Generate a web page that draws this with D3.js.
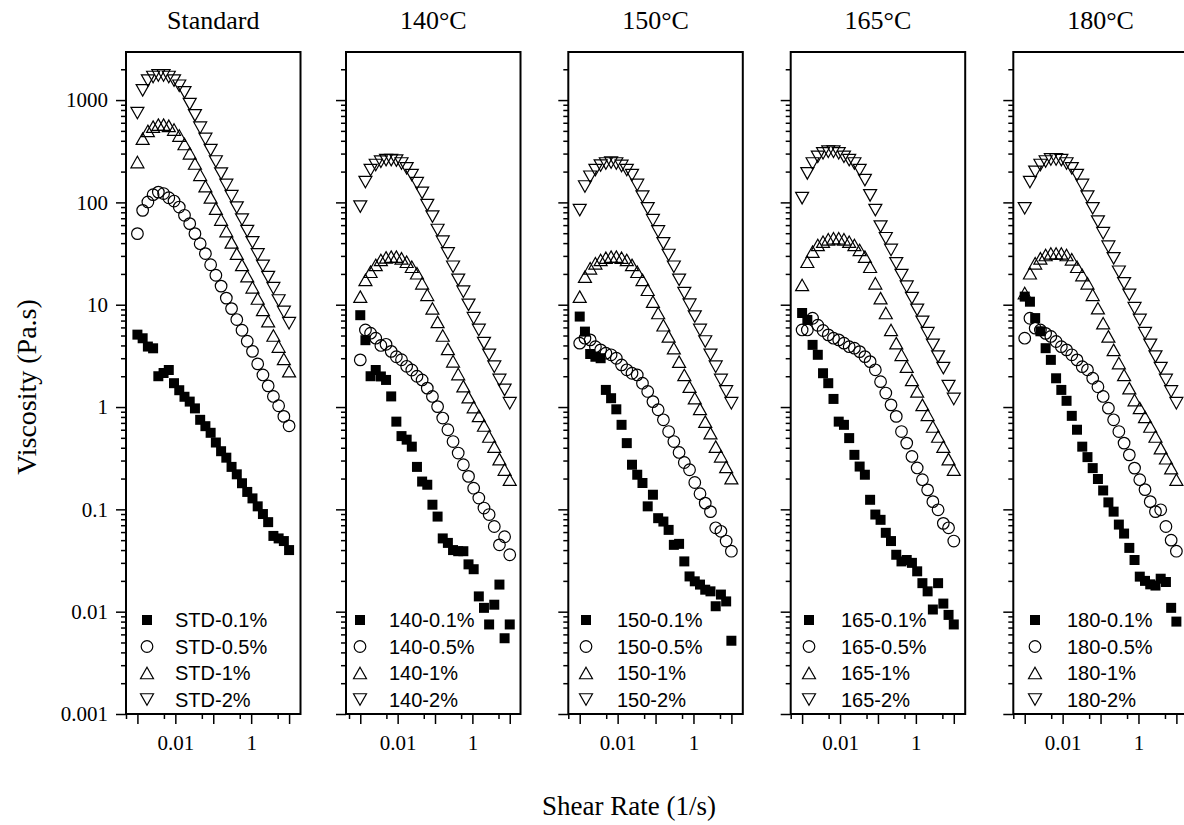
<!DOCTYPE html>
<html><head><meta charset="utf-8">
<script src="https://cdn.jsdelivr.net/npm/d3@7"></script>
<style>body{margin:0;background:#fff}</style>
</head><body><svg id="c" width="1184" height="825"></svg>
<script>
// ---------------- data ----------------
const shearRate = [0.001, 0.001374, 0.001888, 0.002593, 0.003562, 0.004894, 0.006723, 0.009237, 0.01269, 0.01743,
  0.02395, 0.0329, 0.0452, 0.0621, 0.08532, 0.1172, 0.161, 0.2212, 0.3039, 0.4175,
  0.5736, 0.788, 1.083, 1.487, 2.043, 2.807, 3.857, 5.298, 7.279, 10];

const panelTitles = ["Standard", "140\u00B0C", "150\u00B0C", "165\u00B0C", "180\u00B0C"];
const seriesPrefixes = ["STD", "140", "150", "165", "180"];
const seriesSuffixes = ["0.1%", "0.5%", "1%", "2%"];
const yTickLabels = ["0.001", "0.01", "0.1", "1", "10", "100", "1000"];
const xTickLabels = ["0.01", "1"];

// Standard
const std01 = [5.1, 4.7, 3.9, 3.75, 2.0, 2.15, 2.3, 1.71, 1.46, 1.26, 1.13, 0.97, 0.75, 0.65, 0.56, 0.45, 0.37, 0.32, 0.26, 0.22, 0.18, 0.148, 0.128, 0.107, 0.09, 0.075, 0.055, 0.052, 0.049, 0.040];
const std05 = [49.5, 83.6, 101, 119, 126, 122, 111, 103, 90, 74.8, 62, 49.5, 39.5, 31.6, 24.6, 19.4, 15.2, 11.6, 9.16, 7.16, 5.63, 4.40, 3.5, 2.64, 2.06, 1.61, 1.27, 1.03, 0.81, 0.655];
const std1  = [248, 420, 500, 550, 575, 575, 560, 515, 450, 372, 302, 240, 186, 144, 112, 87, 68, 52.5, 40.7, 31.6, 24.5, 19, 14.8, 11.5, 8.9, 6.9, 5.0, 3.9, 2.95, 2.24];
const std2  = [747, 1245, 1550, 1680, 1740, 1740, 1680, 1550, 1380, 1190, 912, 708, 537, 417, 324, 251, 191, 148, 115, 89, 68, 52.5, 40.7, 31, 24, 18.6, 14.5, 11, 8.5, 6.6];
// 140 C
const t140_01 = [7.9, 4.5, 2.0, 2.3, 1.99, 1.84, 1.27, 0.72, 0.52, 0.48, 0.41, 0.26, 0.187, 0.174, 0.111, 0.085, 0.052, 0.047, 0.040, 0.039, 0.039, 0.029, 0.026, 0.0141, 0.0109, 0.0075, 0.0117, 0.0184, 0.0055, 0.0075];
const t140_05 = [2.89, 5.67, 5.27, 4.71, 4.0, 4.1, 3.5, 3.1, 2.9, 2.5, 2.3, 2.0, 1.84, 1.53, 1.27, 1.01, 0.78, 0.60, 0.46, 0.355, 0.273, 0.21, 0.161, 0.129, 0.103, 0.089, 0.068, 0.045, 0.054, 0.036];
const t140_1  = [12.0, 17.5, 21, 24.5, 27.4, 29, 29.5, 29.5, 28.4, 26.3, 23.5, 20.3, 16.2, 12.5, 9.2, 6.8, 5.0, 3.7, 2.8, 2.1, 1.6, 1.25, 1.0, 0.82, 0.66, 0.515, 0.41, 0.31, 0.245, 0.195];
const t140_2  = [91, 158, 207, 232, 250, 259, 259, 256, 240, 215, 185, 154, 124, 94, 72.6, 53.7, 41.3, 31.7, 23.5, 17.5, 13.4, 9.96, 7.38, 5.67, 4.21, 3.24, 2.48, 1.84, 1.47, 1.09];
// 150 C
const t150_01 = [7.66, 5.46, 3.3, 3.1, 3.0, 1.47, 1.22, 0.95, 0.67, 0.444, 0.273, 0.218, 0.181, 0.107, 0.139, 0.082, 0.076, 0.063, 0.045, 0.046, 0.031, 0.0221, 0.0198, 0.0184, 0.0164, 0.0158, 0.0113, 0.0147, 0.0126, 0.0052];
const t150_05 = [4.21, 4.71, 4.53, 3.89, 3.62, 3.36, 3.24, 3.0, 2.58, 2.31, 2.14, 2.06, 1.71, 1.42, 1.13, 0.94, 0.75, 0.576, 0.46, 0.36, 0.287, 0.244, 0.183, 0.142, 0.115, 0.095, 0.066, 0.061, 0.049, 0.039];
const t150_1  = [12.0, 18.8, 22.7, 25.4, 27.4, 28.8, 29.5, 29.5, 28.8, 27.4, 24.5, 21, 17.5, 14, 10.7, 8.3, 6.3, 4.9, 3.76, 2.78, 2.06, 1.58, 1.22, 0.96, 0.72, 0.556, 0.41, 0.33, 0.26, 0.202];
const t150_2  = [84, 143, 178, 207, 229, 240, 245, 240, 227, 207, 185, 148, 114, 87.5, 67, 52, 39.8, 30.6, 23.5, 17.5, 13, 10, 7.66, 5.67, 4.37, 3.24, 2.48, 1.84, 1.42, 1.09];
// 165 C
const t165_01 = [8.3, 7.1, 4.05, 3.24, 2.14, 1.71, 1.2, 0.72, 0.67, 0.497, 0.341, 0.262, 0.218, 0.124, 0.089, 0.079, 0.059, 0.049, 0.036, 0.031, 0.032, 0.030, 0.0248, 0.019, 0.0158, 0.0105, 0.019, 0.012, 0.0093, 0.0075];
const t165_05 = [5.67, 5.67, 7.38, 6.3, 5.6, 5.07, 4.71, 4.53, 4.21, 3.89, 3.76, 3.48, 3.11, 2.78, 2.31, 1.77, 1.37, 1.05, 0.81, 0.576, 0.444, 0.329, 0.254, 0.195, 0.155, 0.119, 0.099, 0.073, 0.066, 0.049];
const t165_1  = [15.6, 26.3, 33, 38.4, 41.3, 43.6, 44.6, 44.6, 43.6, 41.3, 38.4, 34.3, 29.5, 23.5, 16.2, 11.6, 8.3, 5.67, 4.21, 3.24, 2.48, 1.84, 1.42, 1.05, 0.84, 0.645, 0.515, 0.41, 0.31, 0.244];
const t165_2  = [110, 192, 240, 279, 302, 313, 313, 302, 279, 259, 240, 207, 165, 117, 84, 58, 44.6, 34.3, 25.4, 19.5, 15, 11.6, 8.9, 6.8, 5.27, 4.05, 3.11, 2.4, 1.6, 1.2];
// 180 C
const t180_01 = [12, 10.7, 7.4, 5.5, 3.76, 2.89, 1.91, 1.47, 1.15, 0.82, 0.6, 0.41, 0.324, 0.253, 0.198, 0.153, 0.117, 0.095, 0.071, 0.058, 0.042, 0.032, 0.022, 0.020, 0.0185, 0.018, 0.021, 0.0195, 0.0109, 0.008];
const t180_05 = [4.71, 7.38, 5.9, 5.67, 5.25, 4.9, 4.37, 3.89, 3.62, 3.24, 2.89, 2.48, 2.31, 1.91, 1.58, 1.27, 0.975, 0.75, 0.576, 0.444, 0.341, 0.253, 0.195, 0.156, 0.119, 0.095, 0.099, 0.068, 0.05, 0.039];
const t180_1  = [13, 20.3, 25.4, 28.4, 30.6, 31.7, 31.7, 31.7, 30.6, 27.8, 23.5, 19.5, 16.2, 12.5, 9.25, 6.6, 4.9, 3.62, 2.69, 2.06, 1.53, 1.17, 0.98, 0.8, 0.645, 0.515, 0.397, 0.316, 0.253, 0.195];
const t180_2  = [87.5, 158, 199, 232, 251, 263, 263, 259, 240, 215, 185, 148, 114, 87.5, 65, 50, 36.9, 28.4, 21, 16.2, 12.5, 9.25, 7.1, 5.27, 4.05, 3.11, 2.4, 1.84, 1.42, 1.09];

const panelSeries = [
  [std01, std05, std1, std2],
  [t140_01, t140_05, t140_1, t140_2],
  [t150_01, t150_05, t150_1, t150_2],
  [t165_01, t165_05, t165_1, t165_2],
  [t180_01, t180_05, t180_1, t180_2]
];

// ---------------- layout ----------------
const svg = d3.select("#c");
svg.append("rect").attr("width", 1184).attr("height", 825).attr("fill", "#fff");
const panelLeft = [126, 346, 568.3, 790.7, 1013.3];
const panelW = 174.5;
const plotTop = 52, plotBottom = 714;
const xDomains = [[5e-4, 20], [4.15e-4, 19.4], [5e-4, 20], [5e-4, 20], [5e-4, 20]];
const legendSymX = [147, 360, 586, 809, 1035];
const legendTextX = [175, 389, 617, 841, 1067];
const serif = "'Liberation Serif','Times New Roman',serif";
const sans = "'Liberation Sans',Arial,sans-serif";

const y = d3.scaleLog().domain([0.001, 2950]).range([plotBottom, plotTop]);

const yMajor = [], yMinor = [];
for (let e = -3; e <= 3; e++) {
  yMajor.push(Math.pow(10, e));
  for (let m = 2; m <= 9; m++) { const v = m * Math.pow(10, e); if (v <= 2950) yMinor.push(v); }
}
const xMajor = [], xMinor = [];
for (let e = -4; e <= 1; e++) {
  const v = Math.pow(10, e); xMajor.push(v);
  xMinor.push(5 * v);
}

const markerPaths = [
  d3.symbol(d3.symbolSquare, 100)(),
  d3.symbol(d3.symbolCircle, 106)(),
  "M0,-5.75L6.5,5.75L-6.5,5.75Z",
  "M0,5.75L6.5,-5.75L-6.5,-5.75Z"
];
const markerFill = ["#000", "none", "none", "none"];

panelSeries.forEach((series, p) => {
  const L = panelLeft[p];
  const x = d3.scaleLog().domain(xDomains[p]).range([L, L + panelW]);
  const g = svg.append("g");
  const [d0, d1] = xDomains[p];

  const yAxMaj = d3.axisLeft(y).tickValues(yMajor).tickSize(10).tickPadding(8)
    .tickFormat((d, i) => p === 0 ? yTickLabels[i] : "");
  const ga = g.append("g").attr("transform", `translate(${L},0)`).call(yAxMaj);
  const yAxMin = d3.axisLeft(y).tickValues(yMinor).tickSize(5).tickFormat("");
  const gb = g.append("g").attr("transform", `translate(${L},0)`).call(yAxMin);

  const xm = xMajor.filter(v => v >= d0 * 0.999 && v <= d1);
  const xAxMaj = d3.axisBottom(x).tickValues(xm).tickSize(10).tickPadding(11)
    .tickFormat(d => {
      const k = Math.round(Math.log10(d));
      if (k === -2) return xTickLabels[0];
      if (k === 0) return xTickLabels[1];
      return "";
    });
  const gc = g.append("g").attr("transform", `translate(0,${plotBottom})`).call(xAxMaj);
  const xn = xMinor.filter(v => v >= d0 * 0.999 && v <= d1);
  const xAxMin = d3.axisBottom(x).tickValues(xn).tickSize(5).tickFormat("");
  const gd = g.append("g").attr("transform", `translate(0,${plotBottom})`).call(xAxMin);

  [ga, gb, gc, gd].forEach(a => {
    a.select(".domain").remove();
    a.selectAll("line").attr("stroke", "#000").attr("stroke-width", 1.5);
    a.selectAll("text").attr("font-family", serif).attr("font-size", 21).attr("fill", "#000");
  });

  g.append("rect").attr("x", L).attr("y", plotTop).attr("width", panelW).attr("height", plotBottom - plotTop)
    .attr("fill", "none").attr("stroke", "#000").attr("stroke-width", 2);

  svg.append("text").attr("x", L + panelW / 2).attr("y", 29).attr("text-anchor", "middle")
    .attr("font-family", serif).attr("font-size", 26).text(panelTitles[p]);

  series.forEach((vals, s) => {
    g.append("g").selectAll("path").data(vals.map((v, i) => [shearRate[i], v])).join("path")
      .attr("d", markerPaths[s])
      .attr("transform", d => `translate(${x(d[0])},${y(d[1])})`)
      .attr("fill", markerFill[s])
      .attr("stroke", "#000").attr("stroke-width", s === 0 ? 0 : 1.2);
  });

  seriesSuffixes.forEach((suf, s) => {
    const ly = 620 + 26.5 * s;
    g.append("path").attr("d", markerPaths[s]).attr("transform", `translate(${legendSymX[p]},${ly})`)
      .attr("fill", markerFill[s]).attr("stroke", "#000").attr("stroke-width", s === 0 ? 0 : 1.2);
    g.append("text").attr("x", legendTextX[p]).attr("y", ly).attr("dy", "0.36em")
      .attr("font-family", sans).attr("font-size", 20).text(`${seriesPrefixes[p]}-${suf}`);
  });
});

svg.append("text").attr("transform", "translate(36,387) rotate(-90)").attr("text-anchor", "middle")
  .attr("font-family", serif).attr("font-size", 28).text("Viscosity (Pa.s)");
svg.append("text").attr("x", 629).attr("y", 815).attr("text-anchor", "middle")
  .attr("font-family", serif).attr("font-size", 27).text("Shear Rate (1/s)");
</script>
</body></html>
